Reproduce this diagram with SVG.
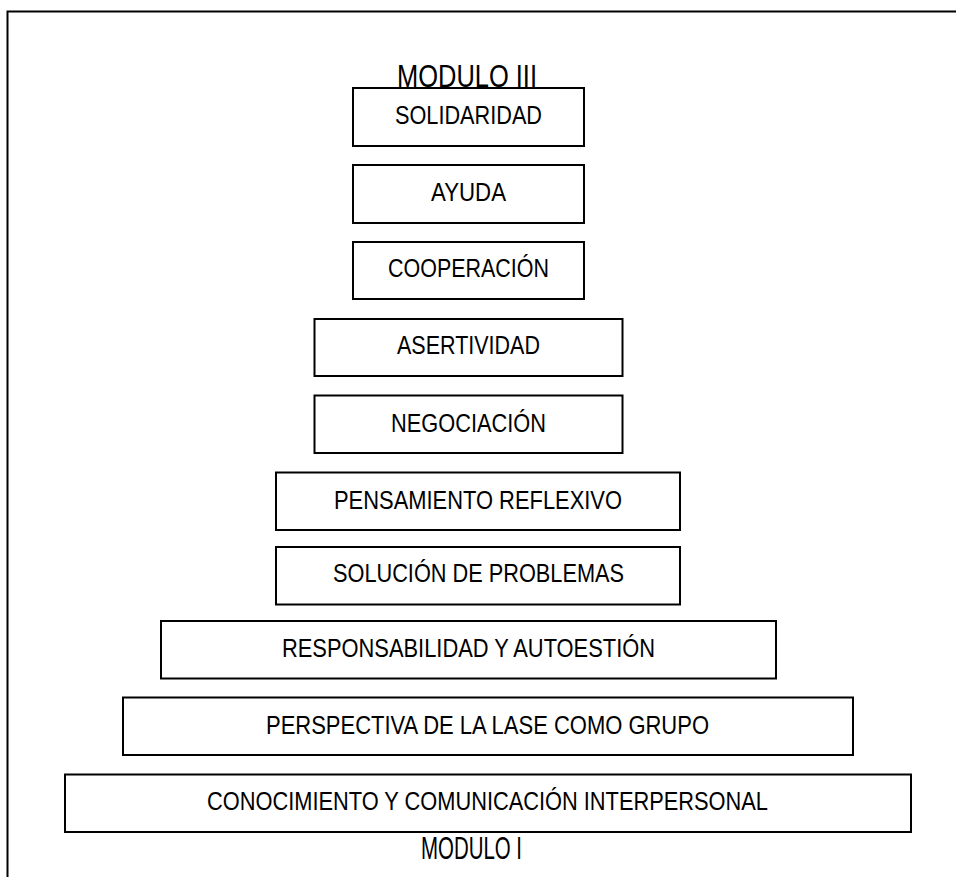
<svg xmlns="http://www.w3.org/2000/svg" width="956" height="877" viewBox="0 0 956 877">
  <style>
    .frame { fill: none; stroke: #000; stroke-width: 2; }
    .box { fill: #fff; stroke: #000; stroke-width: 2; }
    .lbl { font-family: "Liberation Sans Narrow", "Liberation Sans", Arial, sans-serif; font-size: 26px; fill: #000; }
    .mod { font-family: "Liberation Sans Narrow", "Liberation Sans", Arial, sans-serif; font-size: 31px; fill: #000; }
  </style>
  <rect width="956" height="877" fill="#fff"/>
  <!-- outer frame, open on the right and bottom -->
  <path class="frame" d="M7.5,877 V11.5 H956"/>

  <g id="module-3-title">
    <text class="mod" x="397" y="86.5" textLength="140" lengthAdjust="spacingAndGlyphs">MODULO III</text>
  </g>

  <g id="solidaridad">
    <rect class="box" x="353" y="88" width="231" height="58"/>
    <text class="lbl" x="395" y="124" textLength="147" lengthAdjust="spacingAndGlyphs">SOLIDARIDAD</text>
  </g>
  <g id="ayuda">
    <rect class="box" x="353" y="165" width="231" height="58"/>
    <text class="lbl" x="431" y="200.5" textLength="75" lengthAdjust="spacingAndGlyphs">AYUDA</text>
  </g>
  <g id="cooperacion">
    <rect class="box" x="353" y="242" width="231" height="57"/>
    <text class="lbl" x="388" y="277" textLength="161" lengthAdjust="spacingAndGlyphs">COOPERACIÓN</text>
  </g>
  <g id="asertividad">
    <rect class="box" x="314.5" y="319" width="308" height="57"/>
    <text class="lbl" x="397" y="354" textLength="143" lengthAdjust="spacingAndGlyphs">ASERTIVIDAD</text>
  </g>
  <g id="negociacion">
    <rect class="box" x="314.5" y="395.5" width="308" height="57.5"/>
    <text class="lbl" x="391" y="431.5" textLength="155" lengthAdjust="spacingAndGlyphs">NEGOCIACIÓN</text>
  </g>
  <g id="pensamiento-reflexivo">
    <rect class="box" x="276" y="472.5" width="404" height="57.5"/>
    <text class="lbl" x="334" y="508.5" textLength="288" lengthAdjust="spacingAndGlyphs">PENSAMIENTO REFLEXIVO</text>
  </g>
  <g id="solucion-problemas">
    <rect class="box" x="276" y="547" width="404" height="57.5"/>
    <text class="lbl" x="333" y="582" textLength="291" lengthAdjust="spacingAndGlyphs">SOLUCIÓN DE PROBLEMAS</text>
  </g>
  <g id="responsabilidad">
    <rect class="box" x="161" y="621" width="615" height="57.5"/>
    <text class="lbl" x="282" y="657" textLength="373" lengthAdjust="spacingAndGlyphs">RESPONSABILIDAD Y AUTOESTIÓN</text>
  </g>
  <g id="perspectiva-clase">
    <rect class="box" x="123" y="697.5" width="730" height="57.5"/>
    <text class="lbl" x="266" y="733.5" textLength="443" lengthAdjust="spacingAndGlyphs">PERSPECTIVA DE LA LASE COMO GRUPO</text>
  </g>
  <g id="conocimiento-comunicacion">
    <rect class="box" x="65" y="774.5" width="846" height="57.5"/>
    <text class="lbl" x="207" y="810" textLength="561" lengthAdjust="spacingAndGlyphs">CONOCIMIENTO Y COMUNICACIÓN INTERPERSONAL</text>
  </g>

  <g id="module-1-title">
    <text class="mod" x="421" y="858.5" textLength="101" lengthAdjust="spacingAndGlyphs">MODULO I</text>
  </g>

  <!-- the stacked levels are not joined by connectors -->
  <g id="connectors"/>
</svg>
